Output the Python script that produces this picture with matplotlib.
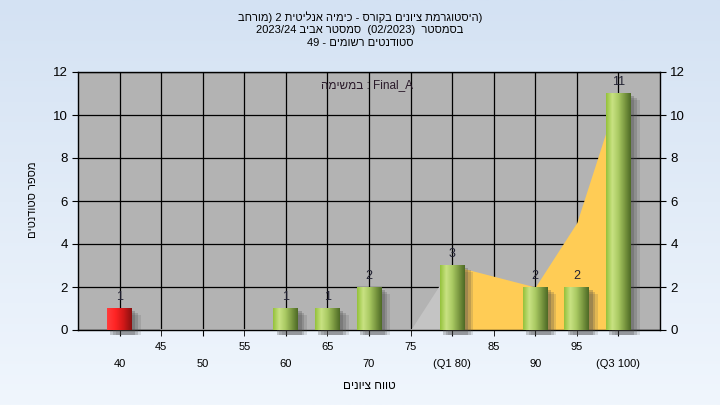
import re
import numpy as np
import matplotlib
matplotlib.use("Agg")
import matplotlib.pyplot as plt
from matplotlib.colors import LinearSegmentedColormap
from matplotlib.patches import Rectangle

plt.rcParams['font.family'] = ['Liberation Sans', 'DejaVu Sans']

# data
categories = [40, 45, 50, 55, 60, 65, 70, 75, 80, 85, 90, 95, 100]
tick_names = ['40', '45', '50', '55', '60', '65', '70', '75', '(Q1 80)', '85', '90', '95', '(Q3 100)']
bar_cats = [40, 60, 65, 70, 80, 90, 95, 100]
bar_vals = [1, 1, 1, 2, 3, 2, 2, 11]
fail_cats = [40]  # red bars
area_cats = [45, 50, 55, 60, 65, 70, 75, 80, 90, 95, 100]
area_vals = [0, 0, 0, 0, 0, 0, 0, 3, 2, 5, 11]
q1, q3 = 80, 100

title_lines = ["(היסטוגרמת ציונים בקורס - כימיה אנליטית 2 (מורחב",
               "בסמסטר  (02/2023)  סמסטר אביב 2023/24",
               "סטודנטים רשומים - 49"]
task_word = "במשימה"
task_name = "Final_A"
x_label = "טווח ציונים"
y_label = "מספר סטודנטים"


def vis(s):
    # matplotlib has no bidi: put hebrew in visual (left to right) order
    tokens = re.findall(r'[A-Za-z0-9_/.]+|.', s)
    mirror = {'(': ')', ')': '('}
    return ''.join(mirror.get(t, t) for t in reversed(tokens))


def pos(c):
    return categories.index(c)


fig = plt.figure(figsize=(7.2, 4.05), dpi=100)

# background gradient
bg = fig.add_axes([0, 0, 1, 1], zorder=-10)
grad = np.linspace(0, 1, 256).reshape(-1, 1)
bg_cmap = LinearSegmentedColormap.from_list('bg', ['#d4e2f3', '#f0f6fd'])
bg.imshow(grad, aspect='auto', cmap=bg_cmap, extent=[0, 1, 0, 1])
bg.axis('off')

ax = fig.add_axes([78 / 720, 75 / 405, 582 / 720, 258 / 405])
ax.set_facecolor('#b3b3b3')

# grid
for i in range(len(categories)):
    ax.axvline(i, color='black', lw=0.9, zorder=1)
for v in range(0, 13, 2):
    ax.axhline(v, color='black', lw=0.9, zorder=1)

# area series: grey before Q1, yellow between Q1 and Q3
ax_x = [pos(c) for c in area_cats]
split = area_cats.index(q1)
end = area_cats.index(q3) + 1
gx = ax_x[:split + 1]
gy = area_vals[:split + 1]
ax.fill_between(gx, 0, gy, color='#c4c4c4', lw=0, zorder=2)
ax.plot(gx, [0] * len(gx), color='#c8c8c8', lw=1.2, zorder=2, clip_on=False)
ax.fill_between(ax_x[split:end], 0, area_vals[split:end], color='#ffcc55', lw=0, zorder=2)

green = LinearSegmentedColormap.from_list('g', ['#95c23c', '#c9e283', '#a9c962', '#7c9a42', '#4e6a26'])
red = LinearSegmentedColormap.from_list('r', ['#ff3c3c', '#ff2424', '#d01818', '#8a1010'])
hgrad = np.linspace(0, 1, 64).reshape(1, -1)
w = 0.6
for c, v in zip(bar_cats, bar_vals):
    x = pos(c)
    # soft shadow
    for k, a in enumerate([0.28, 0.22, 0.16]):
        d = 0.05 + 0.04 * k
        ax.add_patch(Rectangle((x - w / 2 + d * 1.6, -0.25), w, v + 0.25 - d * 2.5,
                               color='#4a4a4a', alpha=a, lw=0, zorder=3, clip_on=False))
    cm = red if c in fail_cats else green
    ax.imshow(hgrad, cmap=cm, aspect='auto', extent=[x - w / 2, x + w / 2, 0, v], zorder=4)
    ax.text(x, v + 0.25, str(v), ha='center', va='bottom', fontsize=9, color='#222233', zorder=5)

ax.set_xlim(-1, 13)
ax.set_ylim(0, 12)

# ticks: even categories on the lower row, odd ones on the upper row
ax.set_xticks(range(0, 13, 2))
ax.set_xticklabels(tick_names[0::2])
ax.set_xticks(range(1, 13, 2), minor=True)
ax.set_xticklabels(tick_names[1::2], minor=True)
ax.tick_params(axis='x', which='major', length=4, pad=17, labelsize=8)
ax.tick_params(axis='x', which='minor', length=4, pad=5, labelsize=8)
ax.set_yticks(range(0, 13, 2))
ax.tick_params(axis='y', which='both', length=4, labelsize=9.5, right=True, labelright=True)
for s in ax.spines.values():
    s.set_color('black')
    s.set_linewidth(1)

ax.text(0.497, 0.95, vis(task_word) + " : " + task_name, transform=ax.transAxes,
        ha='center', va='center', fontsize=8.5, color='#2a1a2a', zorder=6)

ax.set_xlabel(vis(x_label), fontsize=8.5, labelpad=8)
fig.text(33 / 720, 1 - 200 / 405, vis(y_label), rotation=90, ha='center', va='center', fontsize=8)

for i, line in enumerate(title_lines):
    fig.text(0.5, 1 - (17 + 13 * i) / 405, vis(line), ha='center', va='center', fontsize=8)

fig.savefig('out.png', dpi=100)
